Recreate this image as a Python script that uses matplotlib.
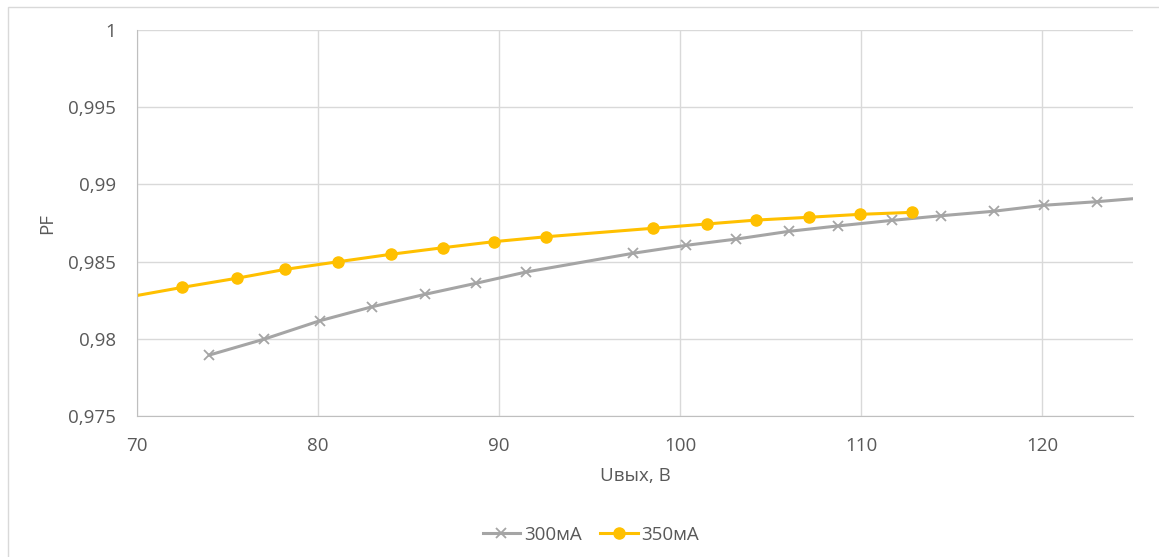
import matplotlib.pyplot as plt
from matplotlib.ticker import FuncFormatter, MultipleLocator
from matplotlib.patches import Rectangle

# 300 mA series (last point lies past the right edge and gets clipped)
u_300 = [74.0, 77.0, 80.1, 83.0, 85.9, 88.7, 91.5, 97.4, 100.3, 103.1,
         106.0, 108.7, 111.7, 114.4, 117.3, 120.1, 123.0, 125.9]
pf_300 = [0.97895, 0.97997, 0.98117, 0.98208, 0.98288, 0.98359, 0.98433,
          0.98554, 0.98605, 0.98646, 0.98696, 0.98731, 0.98767, 0.98797,
          0.98826, 0.98865, 0.98888, 0.98916]

# 350 mA series (first point lies left of the axis and gets clipped)
u_350 = [69.6, 72.5, 75.5, 78.2, 81.1, 84.0, 86.9, 89.7, 92.6, 98.5,
         101.5, 104.2, 107.1, 109.9, 112.8]
pf_350 = [0.98272, 0.98333, 0.98392, 0.98450, 0.98499, 0.98547, 0.98590,
          0.98629, 0.98661, 0.98716, 0.98744, 0.98769, 0.98787, 0.98806,
          0.98819]

labels = ['300мА', '350мА']
x_label = 'Uвых, В'
y_label = 'PF'

plt.rcParams['font.family'] = ['Open Sans', 'DejaVu Sans']
txt = '#595959'
grid = '#D9D9D9'
fs = 13.5

fig = plt.figure(figsize=(11.59, 5.57), dpi=100)
fig.patches.append(Rectangle((8 / 1159, -0.1), 1.2, 1.1 - 7 / 557,
                             transform=fig.transFigure, fill=False,
                             edgecolor=grid, linewidth=1))
ax = fig.add_axes([137 / 1159, 1 - 416 / 557, (1133 - 137) / 1159, (416 - 30) / 557])

ax.plot(u_300, pf_300, color='#A5A5A5', lw=2.2, marker='x', ms=7.5, mew=1.3,
        label=labels[0])
ax.plot(u_350, pf_350, color='#FFC000', lw=2.2, marker='o', ms=8,
        label=labels[1])

ax.set_xlim(70, 125)
ax.set_ylim(0.975, 1.0)
ax.xaxis.set_major_locator(MultipleLocator(10))
ax.yaxis.set_major_locator(MultipleLocator(0.005))

def comma_fmt(v, pos):
    s = f'{v:.3f}'.rstrip('0').rstrip('.')
    return s.replace('.', ',')

ax.yaxis.set_major_formatter(FuncFormatter(comma_fmt))
ax.xaxis.set_major_formatter(FuncFormatter(lambda v, p: f'{v:.0f}'))

ax.grid(True, color=grid, lw=1)
ax.set_axisbelow(True)
for s in ['top', 'right']:
    ax.spines[s].set_visible(False)
ax.spines['left'].set_color('#BFBFBF')
ax.spines['bottom'].set_color('#BFBFBF')
ax.tick_params(length=0, labelsize=fs, colors=txt)
ax.tick_params(axis='y', pad=15)
ax.tick_params(axis='x', pad=15)

ax.set_xlabel(x_label, fontsize=fs, color=txt, labelpad=9)
ax.set_ylabel(y_label, fontsize=fs, color=txt, labelpad=9)

fig.legend(loc='center', bbox_to_anchor=(591 / 1159, 1 - 535 / 557), ncol=2,
           frameon=False, fontsize=fs, labelcolor=txt, handlelength=2.0,
           columnspacing=1.0, handletextpad=0.2, borderaxespad=0)

fig.savefig('out.png', dpi=100)
